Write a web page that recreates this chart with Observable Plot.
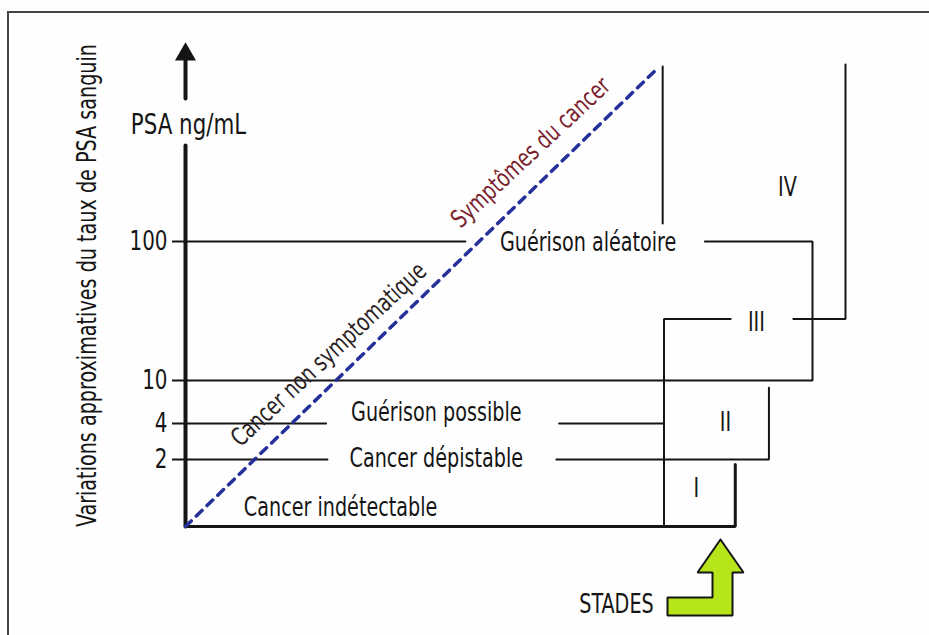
<!DOCTYPE html>
<html>
<head>
<meta charset="utf-8">
<script src="https://cdn.jsdelivr.net/npm/d3@7"></script>
<script src="https://cdn.jsdelivr.net/npm/@observablehq/plot@0.6"></script>
<style>
  body { margin: 0; background: #fff; }
  #wrap { position: relative; width: 929px; height: 635px; overflow: hidden; background: #fefefe; }
  #frame { position: absolute; left: 7px; top: 11px; width: 940px; height: 640px; border: 2px solid #444; box-sizing: border-box; pointer-events: none; }
  #wrap svg { position: absolute; left: 0; top: 0; }
</style>
</head>
<body>
<div id="wrap"><div id="frame"></div></div>
<script>
// ---- Data (diagram values: x = disease progression, y = PSA ng/mL) ----
const psaTicks = [2, 4, 10, 100];
const psaDomain = [0, 2, 4, 10, 100, 1000];

// Threshold lines and stage brackets (polylines)
const thinLines = [
  { id: "l100a", pts: [[0, 100], [42.4, 100]] },
  { id: "l100b", pts: [[78.7, 100], [95.0, 100], [95.0, 10], [0, 10]] },
  { id: "l4a", pts: [[0, 4], [21.3, 4]] },
  { id: "l4b", pts: [[56.6, 4], [72.5, 4]] },
  { id: "l2a", pts: [[0, 2], [21.5, 2]] },
  { id: "l2b", pts: [[56.2, 2], [88.4, 2], [88.4, 9.0]] },
  { id: "stage3", pts: [[72.5, 0], [72.5, 49.8], [82.6, 49.8]] },
  { id: "stage4", pts: [[92.1, 49.8], [100, 49.8], [100, 1010]] },
  { id: "aleatoire", pts: [[72.3, 1000], [72.3, 192]] }
];
const baseLine = [[0, 0], [83.3, 0], [83.3, 1.85]];
const axisLines = [
  { id: "low", pts: [[0, 0], [0, 594]] },
  { id: "high", pts: [[0, 835], [0, 1031]] }
];
const axisTip = [{ x: 0, y: 1062 }];
const diagonal = [[0, 0], [71.5, 990]];

const bandLabels = [
  { label: "Cancer indétectable", x: 23.5, y: 0.57 },
  { label: "Cancer dépistable", x: 38.0, y: 2.05 },
  { label: "Guérison possible", x: 38.0, y: 5.5 },
  { label: "Guérison aléatoire", x: 61.0, y: 99 }
];
const stageLabels = [
  { label: "I", x: 77.4, y: 1.13 },
  { label: "II", x: 81.8, y: 4.14 },
  { label: "III", x: 86.5, y: 47.6 },
  { label: "IV", x: 91.2, y: 378 }
];
const diagLabelNon = [{ label: "Cancer non symptomatique", x: 21.7, y: 26.8 }];
const diagLabelSym = [{ label: "Symptômes du cancer", x: 52.3, y: 557 }];
const unitLabel = [{ label: "PSA ng/mL", x: 0.45, y: 702 }];
const yTitle = [{ label: "Variations approximatives du taux de PSA sanguin", x: -14.85, y: 71.5 }];
const stadesLabel = [{ label: "STADES", x: 65.3, y: -2.33 }];
const stadesArrow = [
  [81.06, -0.388], [84.55, -1.373], [82.88, -1.373], [82.88, -2.657],
  [73.03, -2.657], [73.03, -2.119], [79.85, -2.119], [79.85, -1.373],
  [77.58, -1.373], [81.06, -0.388]
];

// ---- Build tables ----
const flatten = (paths) => paths.flatMap(p => p.pts.map(([x, y]) => ({ id: p.id, x, y })));
const toXY = (pts) => pts.map(([x, y]) => ({ x, y }));

const FONT = "'DejaVu Sans Condensed', 'DejaVu Sans', sans-serif";
const INK = "#151515";
const CONDENSE = 0.82;

const chart = Plot.plot({
  width: 929,
  height: 635,
  marginLeft: 185,
  marginRight: 84,
  marginTop: 66,
  marginBottom: 109,
  x: { domain: [0, 100], range: [185, 845], axis: null },
  y: { type: "linear", domain: psaDomain, range: [526, 459, 423, 380, 241, 66], axis: null },
  style: { fontFamily: FONT, fontSize: "26px", background: "transparent", color: INK, overflow: "visible" },
  marks: [
    // threshold lines & stage brackets
    Plot.line(flatten(thinLines), { x: "x", y: "y", z: "id", stroke: INK, strokeWidth: 2, strokeLinejoin: "miter" }),
    Plot.line(toXY(baseLine), { x: "x", y: "y", stroke: INK, strokeWidth: 3, strokeLinejoin: "miter" }),
    // PSA axis with arrow
    Plot.line(flatten(axisLines), { x: "x", y: "y", z: "id", stroke: INK, strokeWidth: 4 }),
    Plot.dot(axisTip, { x: "x", y: "y", symbol: "triangle", r: 7.8, fill: INK, stroke: "none" }),
    Plot.axisY(psaTicks, { anchor: "left", tickSize: 13, tickPadding: 5, strokeWidth: 2, stroke: INK, fontSize: 27, label: null, tickFormat: d => String(d) }),
    // diagonal progression
    Plot.line(toXY(diagonal), { x: "x", y: "y", stroke: "#25309a", strokeWidth: 3.5, strokeDasharray: "8,7" }),
    // texts
    Plot.text(bandLabels, { x: "x", y: "y", text: "label", fontSize: 26, fill: INK }),
    Plot.text(stageLabels, { x: "x", y: "y", text: "label", fontSize: 26, fill: INK }),
    Plot.text(diagLabelNon, { x: "x", y: "y", text: "label", rotate: -43, fontSize: 25, fill: "#2a1e1e" }),
    Plot.text(diagLabelSym, { x: "x", y: "y", text: "label", rotate: -43, fontSize: 25, fill: "#7a1f2e" }),
    Plot.text(unitLabel, { x: "x", y: "y", text: "label", fontSize: 29, fill: INK }),
    Plot.text(yTitle, { x: "x", y: "y", text: "label", rotate: -90, fontSize: 26, fill: INK }),
    // STADES arrow
    Plot.line(toXY(stadesArrow), { x: "x", y: "y", fill: "#b6e51b", stroke: INK, strokeWidth: 2, strokeLinejoin: "miter" }),
    Plot.text(stadesLabel, { x: "x", y: "y", text: "label", fontSize: 26, fill: INK })
  ]
});

// condense the lettering horizontally (the reference uses a narrow typeface)
chart.querySelectorAll("text").forEach(t => {
  const tr = t.getAttribute("transform") || "";
  t.setAttribute("transform", `${tr} scale(${CONDENSE},1)`);
});
document.getElementById("wrap").appendChild(chart);
</script>
</body>
</html>
